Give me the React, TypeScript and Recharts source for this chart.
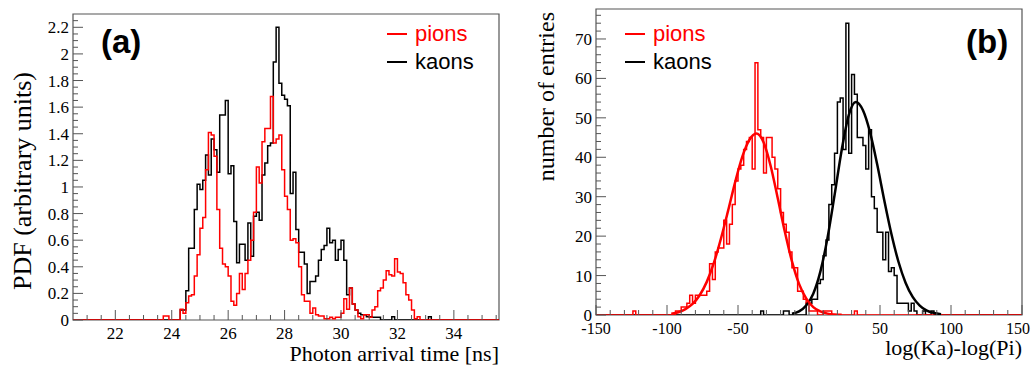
import { LineChart, Line, XAxis, YAxis, ReferenceArea, Legend, Label } from "recharts";

// Fonts: ROOT style, Times for axes, Helvetica for legend / panel tags
const SERIF = '"Liberation Serif", "Times New Roman", serif';
const SANS = '"Liberation Sans", Arial, sans-serif';
const FRAME = "#555";
const RED = "#ff0000";
const BLACK = "#000000";

// ---- panel (a): photon arrival time PDF, 0.1 ns bins ----
const TIME_RANGE = [20.5, 35.6];
const TIME_BIN = 0.1;
const TIME_FIRST_BIN = 23.6; // left edge of first stored bin
const pionsTime = [
  0, 0.03, 0.03, 0, 0, 0, 0, 0.08, 0.05, 0.13, // 23.6 - 24.5
  0.18, 0.19, 0.33, 0.49, 0.69, 0.77, 1.13, 1.41, 1.39, 1.23, // 24.6 - 25.5
  0.83, 0.54, 0.42, 0.4, 0.33, 0.14, 0.11, 0.2, 0.35, 0.23, // 25.6 - 26.5
  0.35, 0.45, 0.6, 0.81, 1.15, 1.03, 1.34, 1.44, 1.44, 1.68, // 26.6 - 27.5
  1.33, 1.36, 1.39, 1.13, 0.93, 0.83, 0.6, 0.61, 0.58, 0.4, // 27.6 - 28.5
  0.19, 0.14, 0.14, 0.05, 0.09, 0.04, 0.03, 0.03, 0.01, 0.01, // 28.6 - 29.5
  0.02, 0.01, 0.02, 0.02, 0.05, 0.16, 0.08, 0.24, 0.12, 0.075, // 29.6 - 30.5
  0.025, 0.01, 0.04, 0.04, 0.02, 0.075, 0.1, 0.22, 0.24, 0.3, // 30.6 - 31.5
  0.37, 0.34, 0.33, 0.46, 0.36, 0.35, 0.28, 0.19, 0.15, 0.075, // 31.6 - 32.5
  0.01, 0.025, 0, 0, 0, 0, 0, // 32.6 - 33.2
];
const kaonsTime = [
  0, 0, 0, 0, 0, 0, 0, 0.075, 0.075, 0.22,
  0.54, 0.54, 0.83, 1.02, 0.98, 1.05, 1.24, 1.09, 1.36, 1.28,
  1.11, 1.54, 1.54, 1.65, 1.1, 1.16, 0.74, 0.43, 0.57, 0.57,
  0.45, 0.73, 0.48, 0.78, 0.81, 0.75, 1.09, 1.18, 1.31, 1.33,
  1.94, 2.2, 1.78, 1.69, 1.66, 1.61, 0.95, 1.11, 0.68, 0.51,
  0.51, 0.42, 0.2, 0.29, 0.29, 0.33, 0.45, 0.53, 0.56, 0.69,
  0.58, 0.6, 0.45, 0.53, 0.6, 0.45, 0.19, 0.24, 0.12, 0.075,
  0.05, 0.04, 0.04, 0.025, 0.025, 0.02, 0.02, 0.02, 0, 0,
  0, 0, 0.025, 0, 0, 0, 0, 0, 0, 0,
  0, 0, 0, 0, 0, 0.025, 0,
];
const timeTicks = [22, 24, 26, 28, 30, 32, 34];
const pdfTicks = [0, 0.2, 0.4, 0.6, 0.8, 1, 1.2, 1.4, 1.6, 1.8, 2, 2.2];
const PDF_MAX = 2.3;

// ---- panel (b): log-likelihood difference, 2-unit bins ----
const LOGL_RANGE = [-150, 150];
const LOGL_BIN = 2;
const LOGL_FIRST_BIN = -126;
const pionsLogL = [
  0, 1, 0, 0, 0, 0, 0, 0, 0, 0, // -126 .. -108
  0, 0, 0, 0, 0, 0, 1, 1, 2, 2, // -106 .. -88
  3, 5, 3, 5, 5, 5, 5, 6, 13, 9, // -86 .. -68
  16, 17, 17, 24, 18, 23, 28, 34, 37, 38, // -66 .. -48
  42, 44, 45, 37, 64, 47, 45, 36, 45, 45, // -46 .. -28
  40, 37, 32, 26, 23, 21, 16, 12, 12, 6, // -26 .. -8
  6, 4, 3, 1, 1, 1, 0, 0, 1, 1, // -6 .. 12
  1, 0, 0, 0, 0, 0, 0, 0, 0, 1, // 14 .. 32
  0, 0, 0, 0, 0, 0, 0, 0, 0, 0, // 34 .. 52
  0, 0, 0, 0, 0, 0, 0, 0, 0, 0, // 54 .. 72
  0, 0, 0, 0, 0, 0, 0, 0, // 74 .. 88
];
const kaonsLogL = [
  0, 0, 0, 0, 0, 0, 0, 0, 0, 0,
  0, 0, 0, 0, 0, 0, 0, 0, 0, 0,
  0, 0, 0, 0, 0, 0, 0, 0, 0, 0,
  0, 0, 0, 0, 0, 0, 0, 0, 0, 0,
  0, 0, 0, 0, 0, 0, 1, 0, 0, 0,
  0, 0, 0, 0, 1, 1, 0, 0, 0, 0,
  0, 0, 3, 3, 4, 4, 8, 9, 15, 19,
  28, 33, 41, 54, 55, 42, 74, 41, 61, 56,
  45, 45, 43, 37, 47, 30, 27, 21, 21, 14,
  21, 11, 12, 10, 3, 3, 3, 3, 1, 3,
  1, 0, 0, 1, 0, 0, 1, 0,
];
// gaussian fit curves
const pionFitX = [-97, -92, -87, -82, -77, -72, -67, -62, -57, -52, -47, -42, -37, -32, -27, -22, -17, -12, -7, -2, 3, 8, 13, 18, 23];
const pionFitY = [0.3, 0.7, 1.5, 2.8, 5.0, 8.4, 13.2, 19.4, 26.4, 33.7, 40.1, 44.4, 46, 43.8, 37.8, 29.6, 21.1, 13.6, 7.9, 4.2, 2.0, 0.9, 0.35, 0.13, 0.05];
const kaonFitX = [-12, -7, -2, 3, 8, 13, 18, 23, 28, 33, 38, 43, 48, 53, 58, 63, 68, 73, 78, 83, 88, 93];
const kaonFitY = [0.3, 0.9, 2.4, 5.4, 11.0, 19.5, 30.4, 41.8, 50.7, 54, 51.9, 46.3, 38.2, 29.1, 20.6, 13.5, 8.2, 4.6, 2.4, 1.1, 0.5, 0.2];
const loglTicks = [-150, -100, -50, 0, 50, 100, 150];
const entryTicks = [0, 10, 20, 30, 40, 50, 60, 70];
const ENTRY_MAX = 77.6;

// step outline points: one per bin edge, value of the bin to the right
function buildSteps(range: number[], width: number, first: number, pions: number[], kaons: number[]) {
  const n = Math.round((range[1] - range[0]) / width);
  const off = Math.round((first - range[0]) / width);
  return Array.from({ length: n + 1 }, (_, i) => {
    const k = i - off;
    return {
      x: +(range[0] + i * width).toFixed(4),
      pions: i < n ? pions[k] ?? 0 : 0,
      kaons: i < n ? kaons[k] ?? 0 : 0,
    };
  });
}

const withMinor = (lo: number, hi: number, step: number) =>
  Array.from({ length: Math.floor((hi - lo) / step + 1e-6) + 1 }, (_, i) => +(lo + i * step).toFixed(3));

const timeData = buildSteps(TIME_RANGE, TIME_BIN, TIME_FIRST_BIN, pionsTime, kaonsTime);
const loglData = buildSteps(LOGL_RANGE, LOGL_BIN, LOGL_FIRST_BIN, pionsLogL, kaonsLogL);
const pionFit = pionFitX.map((x, i) => ({ x, fit: pionFitY[i] }));
const kaonFit = kaonFitX.map((x, i) => ({ x, fit: kaonFitY[i] }));

const isMajor = (majors: number[], v: number) => majors.some((m) => Math.abs(m - v) < 1e-6);

// ROOT-like ticks: drawn inside the frame, labels only on major ticks
// maxLabelX keeps the last label from running off the page, as ROOT does
const bottomTick = (majors: number[], fontSize: number, maxLabelX: number) => (props: any) => {
  const { x, y, payload } = props;
  const major = isMajor(majors, payload.value);
  return (
    <g>
      <line x1={x} x2={x} y1={y} y2={y - (major ? 10 : 5)} stroke={FRAME} strokeWidth={1} />
      {major && (
        <text x={Math.min(x, maxLabelX)} y={y + 18.5} textAnchor="middle" fontFamily={SERIF} fontSize={fontSize} fill="#000">
          {String(payload.value)}
        </text>
      )}
    </g>
  );
};

const leftTick = (majors: number[]) => (props: any) => {
  const { x, y, payload } = props;
  const major = isMajor(majors, payload.value);
  return (
    <g>
      <line x1={x} x2={x + (major ? 10 : 5)} y1={y} y2={y} stroke={FRAME} strokeWidth={1} />
      {major && (
        <text x={x - 4} y={y + 6} textAnchor="end" fontFamily={SERIF} fontSize={17} fill="#000">
          {String(payload.value)}
        </text>
      )}
    </g>
  );
};

const legendContent = ({ payload }: any) => {
  const order = ["pions", "kaons"];
  const items = (payload ?? [])
    .filter((p: any) => order.includes(p.value))
    .sort((a: any, b: any) => order.indexOf(a.value) - order.indexOf(b.value));
  return (
    <svg width={130} height={64}>
      {items.map((item: any, i: number) => (
        <g key={item.value}>
          <line x1={7} x2={27} y1={19 + 28 * i} y2={19 + 28 * i} stroke={item.color} strokeWidth={2} />
          <text x={35} y={26 + 28 * i} fontFamily={SANS} fontSize={22} fill={item.color}>
            {item.value}
          </text>
        </g>
      ))}
    </svg>
  );
};

export default function App() {
  return (
    <div style={{ position: "relative", width: 1032, height: 365, background: "#fff", overflow: "hidden" }}>
      <style>{"body{margin:0}"}</style>

      {/* (a) arrival time */}
      <div style={{ position: "absolute", left: 0, top: 0 }}>
        <LineChart width={516} height={365} data={timeData} margin={{ top: 14, right: 17, bottom: 0, left: 0 }}>
          <ReferenceArea x1={TIME_RANGE[0]} x2={TIME_RANGE[1]} y1={0} y2={PDF_MAX} fill="none" stroke={FRAME} strokeWidth={1.2} />
          <XAxis
            type="number"
            dataKey="x"
            domain={TIME_RANGE}
            allowDataOverflow
            ticks={withMinor(21, 35.5, 0.5)}
            interval={0}
            tickSize={0}
            tickMargin={0}
            axisLine={false}
            tickLine={false}
            tick={bottomTick(timeTicks, 17, 9999)}
            height={45}
          >
            <Label
              content={({ viewBox }: any) => (
                <text x={viewBox.x + viewBox.width} y={viewBox.y + 41} textAnchor="end" fontFamily={SERIF} fontSize={22} fill="#000">
                  Photon arrival time [ns]
                </text>
              )}
            />
          </XAxis>
          <YAxis
            type="number"
            domain={[0, PDF_MAX]}
            allowDataOverflow
            ticks={withMinor(0, 2.25, 0.05)}
            interval={0}
            tickSize={0}
            tickMargin={0}
            axisLine={false}
            tickLine={false}
            tick={leftTick(pdfTicks)}
            width={73}
          >
            <Label
              content={({ viewBox }: any) => {
                const cx = 31;
                const cy = viewBox.y + viewBox.height / 2 + 14;
                return (
                  <text x={cx} y={cy} transform={`rotate(-90 ${cx} ${cy})`} textAnchor="middle" fontFamily={SERIF} fontSize={26} fill="#000">
                    PDF (arbitrary units)
                  </text>
                );
              }}
            />
          </YAxis>
          <Legend layout="horizontal" verticalAlign="middle" align="center" content={legendContent} wrapperStyle={{ left: 380, top: 15, width: 130, height: 64 }} />
          <Line type="stepAfter" dataKey="kaons" name="kaons" stroke={BLACK} strokeWidth={1.5} dot={false} activeDot={false} isAnimationActive={false} />
          <Line type="stepAfter" dataKey="pions" name="pions" stroke={RED} strokeWidth={1.5} dot={false} activeDot={false} isAnimationActive={false} />
        </LineChart>
      </div>

      {/* (b) log-likelihood difference */}
      <div style={{ position: "absolute", left: 516, top: 0 }}>
        <LineChart width={516} height={365} data={loglData} margin={{ top: 9, right: 10, bottom: 0, left: 0 }}>
          <ReferenceArea x1={LOGL_RANGE[0]} x2={LOGL_RANGE[1]} y1={0} y2={ENTRY_MAX} fill="none" stroke={FRAME} strokeWidth={1.2} />
          <XAxis
            type="number"
            dataKey="x"
            domain={LOGL_RANGE}
            allowDataOverflow
            ticks={withMinor(-150, 150, 10)}
            interval={0}
            tickSize={0}
            tickMargin={0}
            axisLine={false}
            tickLine={false}
            tick={bottomTick(loglTicks, 16, 502)}
            height={50}
          >
            <Label
              content={({ viewBox }: any) => (
                <text x={viewBox.x + viewBox.width} y={viewBox.y + 40} textAnchor="end" fontFamily={SERIF} fontSize={22} fill="#000">
                  log(Ka)-log(Pi)
                </text>
              )}
            />
          </XAxis>
          <YAxis
            type="number"
            domain={[0, ENTRY_MAX]}
            allowDataOverflow
            ticks={withMinor(0, 76, 2)}
            interval={0}
            tickSize={0}
            tickMargin={0}
            axisLine={false}
            tickLine={false}
            tick={leftTick(entryTicks)}
            width={80}
          >
            <Label
              content={({ viewBox }: any) => {
                const cx = 38;
                const cy = viewBox.y + 3;
                return (
                  <text x={cx} y={cy} transform={`rotate(-90 ${cx} ${cy})`} textAnchor="end" fontFamily={SERIF} fontSize={24} fill="#000">
                    number of entries
                  </text>
                );
              }}
            />
          </YAxis>
          <Legend layout="horizontal" verticalAlign="middle" align="center" content={legendContent} wrapperStyle={{ left: 102, top: 15, width: 130, height: 64 }} />
          <Line type="stepAfter" dataKey="kaons" name="kaons" stroke={BLACK} strokeWidth={1.5} dot={false} activeDot={false} isAnimationActive={false} />
          <Line type="stepAfter" dataKey="pions" name="pions" stroke={RED} strokeWidth={1.5} dot={false} activeDot={false} isAnimationActive={false} />
          <Line data={kaonFit} type="monotone" dataKey="fit" name="kaon fit" legendType="none" stroke={BLACK} strokeWidth={2.5} dot={false} activeDot={false} isAnimationActive={false} />
          <Line data={pionFit} type="monotone" dataKey="fit" name="pion fit" legendType="none" stroke={RED} strokeWidth={2.5} dot={false} activeDot={false} isAnimationActive={false} />
        </LineChart>
      </div>

      {/* panel tags */}
      <svg width={1032} height={365} style={{ position: "absolute", left: 0, top: 0, pointerEvents: "none" }}>
        <text x={101} y={53} fontFamily={SANS} fontWeight="bold" fontSize={33} fill="#000">(a)</text>
        <text x={966} y={53} fontFamily={SANS} fontWeight="bold" fontSize={33} fill="#000">(b)</text>
      </svg>
    </div>
  );
}
